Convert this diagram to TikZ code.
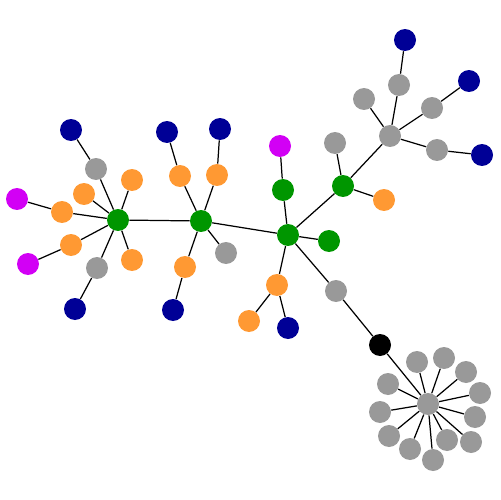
\documentclass[tikz,border=0pt]{standalone}
\usepackage{tikz}
\usetikzlibrary{positioning}
\definecolor{hubgreen}{RGB}{0,150,0}
\definecolor{leaforange}{RGB}{255,153,51}
\definecolor{leafgray}{RGB}{153,153,153}
\definecolor{leafblue}{RGB}{0,0,150}
\definecolor{leafpink}{RGB}{210,0,245}
\tikzset{
  vtx/.style = {circle, inner sep=0pt, minimum size=0.44cm},
  vgreen/.style = {vtx, fill=hubgreen},
  vorange/.style = {vtx, fill=leaforange},
  vgray/.style = {vtx, fill=leafgray},
  vblue/.style = {vtx, fill=leafblue},
  vpink/.style = {vtx, fill=leafpink},
  vblack/.style = {vtx, fill=black},
  linkedge/.style = {line width=0.7pt},
}
\begin{document}
\begin{tikzpicture}[x=0.02cm, y=-0.02cm]
  \useasboundingbox (0,0) rectangle (500,500);
  % left hub
  \node[vgreen] (hA) at (118,220) {};
  \node[vgray] (a1) at (96,169) {};
  \node[vblue] (a1b) at (71,130) {};
  \node[vorange] (a2) at (132,180) {};
  \node[vorange] (a3) at (84,194) {};
  \node[vorange] (a4) at (62,212) {};
  \node[vpink] (a4b) at (17,199) {};
  \node[vorange] (a5) at (71,245) {};
  \node[vpink] (a5b) at (28,264) {};
  \node[vgray] (a6) at (97,268) {};
  \node[vblue] (a6b) at (75,309) {};
  \node[vorange] (a7) at (132,260) {};
  % second hub
  \node[vgreen] (hB) at (201,221) {};
  \node[vorange] (b1) at (180,176) {};
  \node[vblue] (b1b) at (167,132) {};
  \node[vorange] (b2) at (217,175) {};
  \node[vblue] (b2b) at (220,129) {};
  \node[vgray] (b3) at (226,253) {};
  \node[vorange] (b4) at (185,267) {};
  \node[vblue] (b4b) at (173,310) {};
  % middle hub
  \node[vgreen] (hC) at (288,235) {};
  \node[vgreen] (c1) at (283,190) {};
  \node[vpink] (c1b) at (280,146) {};
  \node[vgreen] (c2) at (329,241) {};
  \node[vorange] (c3) at (277,285) {};
  \node[vorange] (c3a) at (249,321) {};
  \node[vblue] (c3b) at (288,328) {};
  \node[vgray] (c4) at (336,291) {};
  \node[vblack] (c4b) at (380,345) {};
  % upper right branch
  \node[vgreen] (hD) at (343,186) {};
  \node[vgray] (d1) at (335,143) {};
  \node[vorange] (d2) at (384,200) {};
  \node[vgray] (hE) at (390,136) {};
  \node[vgray] (e1) at (364,99) {};
  \node[vgray] (e2) at (399,85) {};
  \node[vblue] (e2b) at (405,40) {};
  \node[vgray] (e3) at (432,108) {};
  \node[vblue] (e3b) at (469,81) {};
  \node[vgray] (e4) at (437,150) {};
  \node[vblue] (e4b) at (482,155) {};
  % star
  \node[vgray] (hF) at (428,404) {};
  \foreach \px/\py [count=\i] in {417/362, 444/358, 466/372, 480/393, 475/417,
      471/442, 447/440, 433/460, 410/449, 389/436, 380/412, 388/384} {
    \node[vgray] (f\i) at (\px,\py) {};
    \draw[linkedge] (hF) -- (f\i);
  }

  \foreach \u/\v in {hA/hB, hB/hC, hC/hD, hD/hE,
      hA/a1, a1/a1b, hA/a2, hA/a3, hA/a4, a4/a4b, hA/a5, a5/a5b, hA/a6, a6/a6b, hA/a7,
      hB/b1, b1/b1b, hB/b2, b2/b2b, hB/b3, hB/b4, b4/b4b,
      hC/c1, c1/c1b, hC/c2, hC/c3, c3/c3a, c3/c3b, hC/c4, c4/c4b, c4b/hF,
      hD/d1, hD/d2, hE/e1, hE/e2, e2/e2b, hE/e3, e3/e3b, hE/e4, e4/e4b}
    \draw[linkedge] (\u) -- (\v);
\end{tikzpicture}
\end{document}
